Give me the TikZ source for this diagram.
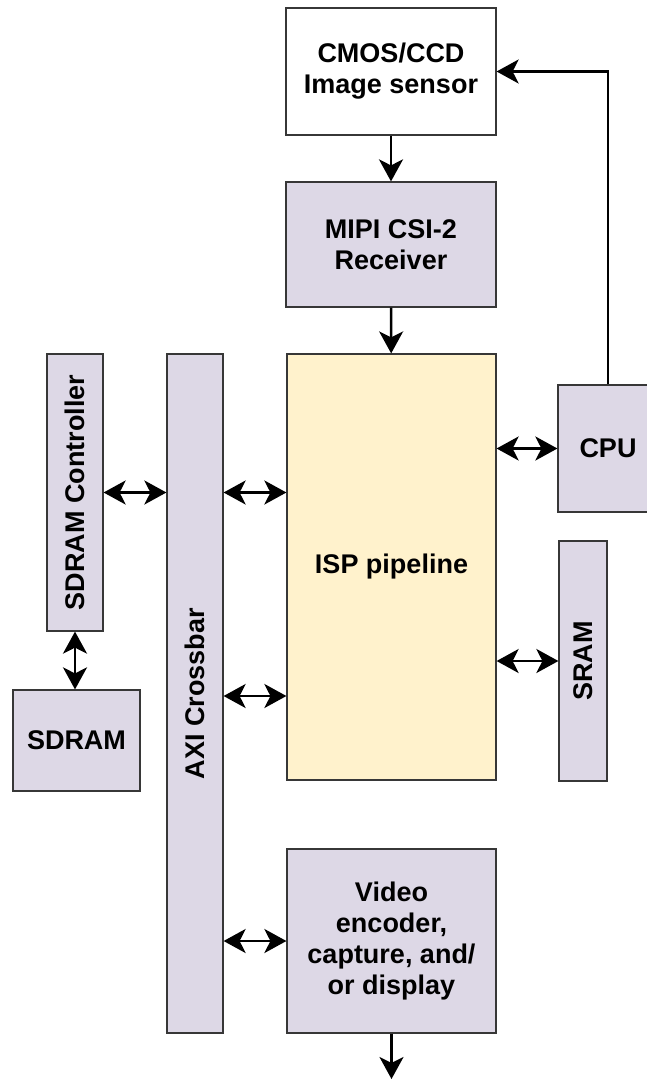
\documentclass[tikz,border=0pt]{standalone}
\usepackage{fontspec}
\setmainfont{Liberation Sans}
\usetikzlibrary{arrows.meta}
\definecolor{lav}{RGB}{221,216,230}
\definecolor{ispy}{RGB}{255,242,204}
\definecolor{edge}{RGB}{55,55,55}
\tikzset{tipx/.tip={Stealth[length=22pt,width=24pt,inset=6pt]}}
\begin{document}
\begin{tikzpicture}[x=1pt,y=-1pt,
  box/.style={draw=edge, line width=1.2pt, fill=lav, inner sep=0pt, align=center,
    font=\fontsize{27}{31}\selectfont\bfseries},
  conn/.style={line width=2.4pt, -tipx},
  dconn/.style={line width=2.4pt, tipx-tipx}]
\useasboundingbox (0,0) rectangle (646,1079);
\node[box, fill=white, minimum width=210pt, minimum height=127pt] (cmos) at (391,71.5) {CMOS/CCD\\Image sensor};
\node[box, minimum width=210pt, minimum height=125pt] (mipi) at (391,244.5) {MIPI CSI-2\\Receiver};
\node[box, fill=ispy, minimum width=209pt, minimum height=426pt] (isp) at (391.5,567) {ISP pipeline};
\node[box, minimum width=100pt, minimum height=127pt] (cpu) at (608,448.5) {CPU};
\node[box, minimum width=48pt, minimum height=240pt] (sram) at (583,661) {\rotatebox{90}{SRAM}};
\node[box, minimum width=56pt, minimum height=277pt] (ctrl) at (75,492.5) {\rotatebox{90}{SDRAM Controller}};
\node[box, minimum width=56pt, minimum height=679pt] (axi) at (195,693.5) {\rotatebox{90}{AXI Crossbar}};
\node[box, minimum width=127pt, minimum height=101pt] (sdram) at (76.5,740.5) {SDRAM};
\node[box, minimum width=209pt, minimum height=184pt] (video) at (391.5,941) {Video\\encoder,\\capture, and/\\or display};
\coordinate (out) at (391.5,1079);

\draw[conn] (cmos) -- (mipi);
\draw[conn] (mipi) -- (isp);
\draw[conn] (cpu.north) |- (cmos.east);
\draw[dconn] (isp.east |- cpu.west) -- (cpu.west);
\draw[dconn] (isp.east |- sram.west) -- (sram.west);
\draw[dconn] (ctrl.east) -- (ctrl.east -| axi.west);
\draw[dconn] (axi.east |- ctrl.east) -- (isp.west |- ctrl.east);
\draw[dconn] (axi.east |- 0,696) -- (isp.west |- 0,696);
\draw[dconn] (ctrl.south) -- (ctrl.south |- sdram.north);
\draw[dconn] (axi.east |- video.west) -- (video.west);
\draw[conn] (video.south) -- (out);
\end{tikzpicture}
\end{document}
